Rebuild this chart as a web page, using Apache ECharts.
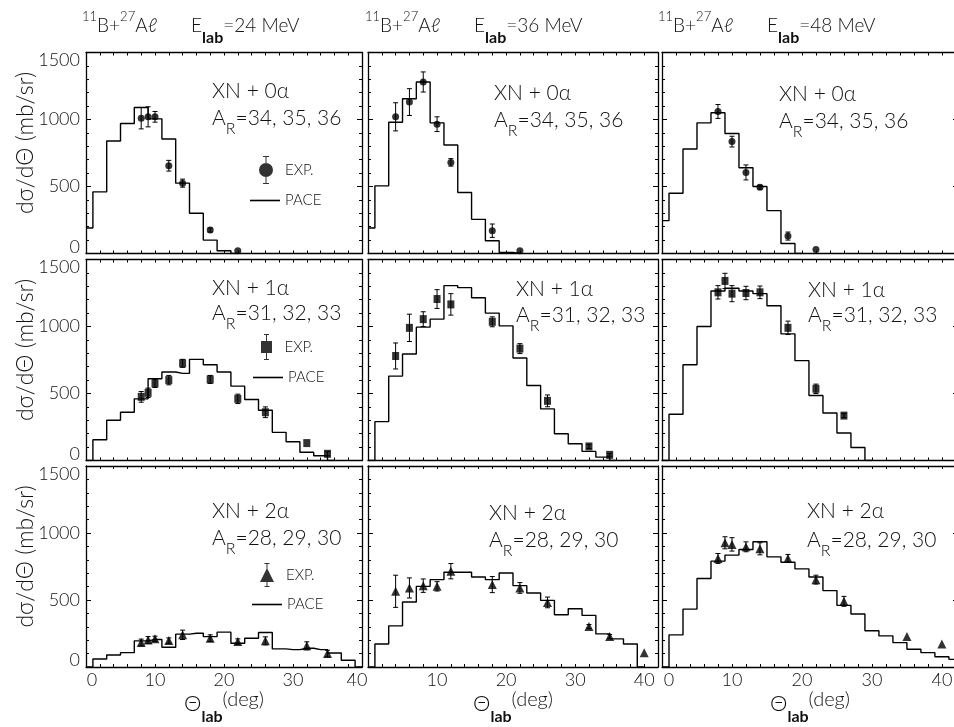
<!DOCTYPE html>
<html>
<head>
<meta charset="utf-8">
<title>11B + 27Al angular distributions</title>
<script src="https://cdn.jsdelivr.net/npm/echarts@6/dist/echarts.min.js"></script>
<style>
  html, body { margin: 0; padding: 0; background: #fff; }
  #chart { width: 954px; height: 727px; }
</style>
</head>
<body>
<div id="chart"></div>
<script>
// PACE histogram bin centres (deg); bins are 2 deg wide
const paceAngles = [0, 2, 4, 6, 8, 10, 12, 14, 16, 18, 20, 22, 24, 26, 28, 30, 32, 34, 36, 38, 40, 42];

// ---- XN + 0alpha (A_R = 34,35,36) ----
const pace24_0a = [190, 460, 840, 970, 1090, 1005, 855, 525, 300, 100, 20, 0];
const pace36_0a = [190, 505, 980, 1155, 1280, 975, 810, 455, 255, 95, 8, 0];
const pace48_0a = [245, 450, 780, 975, 1050, 895, 640, 500, 320, 75, 0];

const exp24_0a_angle = [8, 9, 10, 12, 14, 18, 22];
const exp24_0a_value = [1010, 1020, 1020, 655, 525, 175, 20];
const exp24_0a_error = [80, 75, 40, 40, 30, 15, 0];

const exp36_0a_angle = [4, 6, 8, 10, 12, 18, 22];
const exp36_0a_value = [1020, 1130, 1280, 965, 680, 170, 20];
const exp36_0a_error = [105, 100, 75, 55, 28, 50, 0];

const exp48_0a_angle = [8, 10, 12, 14, 18, 22];
const exp48_0a_value = [1060, 835, 605, 495, 130, 30];
const exp48_0a_error = [52, 40, 56, 15, 30, 0];

// ---- XN + 1alpha (A_R = 31,32,33) ----
const pace24_1a = [0, 155, 300, 360, 460, 610, 660, 650, 755, 715, 660, 555, 455, 375, 210, 140, 62, 35, 0];
const pace36_1a = [0, 290, 630, 795, 995, 1055, 1305, 1290, 1215, 1100, 1005, 765, 560, 385, 200, 125, 68, 25, 0];
const pace48_1a = [0, 345, 715, 1000, 1265, 1285, 1265, 1245, 1155, 945, 745, 485, 355, 205, 97, 0];

const exp24_1a_angle = [8, 9, 10, 12, 14, 18, 22, 26, 32, 35];
const exp24_1a_value = [475, 505, 575, 600, 725, 605, 460, 360, 130, 50];
const exp24_1a_error = [40, 35, 30, 35, 30, 30, 35, 40, 0, 15];

const exp36_1a_angle = [4, 6, 8, 10, 12, 18, 22, 26, 32, 35];
const exp36_1a_value = [780, 990, 1055, 1205, 1165, 1035, 835, 445, 105, 42];
const exp36_1a_error = [97, 102, 55, 70, 80, 37, 37, 44, 15, 10];

const exp48_1a_angle = [8, 9, 10, 12, 14, 18, 22, 26];
const exp48_1a_value = [1255, 1340, 1245, 1250, 1255, 990, 535, 335];
const exp48_1a_error = [50, 57, 60, 50, 47, 50, 35, 15];

// ---- XN + 2alpha (A_R = 28,29,30) ----
const pace24_2a = [0, 60, 90, 107, 195, 205, 147, 245, 252, 227, 260, 177, 215, 258, 135, 130, 140, 130, 105, 50, 0];
const pace36_2a = [0, 172, 307, 485, 602, 652, 707, 707, 672, 652, 702, 607, 552, 497, 390, 435, 385, 247, 210, 172, 0];
const pace48_2a = [0, 240, 432, 660, 790, 835, 877, 935, 822, 782, 732, 672, 570, 460, 395, 270, 232, 182, 132, 107, 77, 57];

const exp24_2a_angle = [8, 9, 10, 12, 14, 18, 22, 26, 32, 35];
const exp24_2a_value = [183, 202, 210, 197, 240, 215, 190, 195, 158, 100];
const exp24_2a_error = [25, 25, 20, 20, 35, 25, 20, 30, 30, 25];

const exp36_2a_angle = [4, 6, 8, 10, 12, 18, 22, 26, 32, 35, 40];
const exp36_2a_value = [565, 590, 607, 602, 715, 615, 590, 482, 302, 227, 107];
const exp36_2a_error = [120, 75, 50, 35, 57, 60, 40, 40, 15, 15, 0];

const exp48_2a_angle = [8, 9, 10, 12, 14, 18, 22, 26, 35, 40];
const exp48_2a_value = [810, 927, 915, 897, 882, 810, 652, 490, 227, 172];
const exp48_2a_error = [37, 45, 50, 37, 45, 30, 33, 37, 0, 0];

// axis tick values
const yTicks = [0, 500, 1000, 1500];
const xTickLabels = [0, 10, 20, 30, 40];

// text
const beamEnergies = ['24', '36', '48'];
const channelNames = ['XN + 0α', 'XN + 1α', 'XN + 2α'];
const residueMasses = ['=34, 35, 36', '=31, 32, 33', '=28, 29, 30'];
const yAxisTitle = 'dσ/dΘ (mb/sr)';

// ---------------------------------------------------------------
const FONT = 'Lato, "DejaVu Sans", sans-serif';
const INK = '#000';
const TXT = '#111';
function txt(size, extra) {
  return Object.assign({ fontFamily: FONT, fontSize: size, fontWeight: 300, color: TXT }, extra || {});
}

// panel geometry
const colLeft = [86, 368, 662];
const colWidth = [276, 290, 296];
const colMax = [40, 42, 42.3];
const rowTop = [52.5, 259.5, 466];
const rowHeight = 201;

const markerSymbol = ['circle', 'rect', 'triangle'];
const markerSize = [7, [7, 8], [9, 9]];

const panelData = [
  [ [pace24_0a, exp24_0a_angle, exp24_0a_value, exp24_0a_error],
    [pace36_0a, exp36_0a_angle, exp36_0a_value, exp36_0a_error],
    [pace48_0a, exp48_0a_angle, exp48_0a_value, exp48_0a_error] ],
  [ [pace24_1a, exp24_1a_angle, exp24_1a_value, exp24_1a_error],
    [pace36_1a, exp36_1a_angle, exp36_1a_value, exp36_1a_error],
    [pace48_1a, exp48_1a_angle, exp48_1a_value, exp48_1a_error] ],
  [ [pace24_2a, exp24_2a_angle, exp24_2a_value, exp24_2a_error],
    [pace36_2a, exp36_2a_angle, exp36_2a_value, exp36_2a_error],
    [pace48_2a, exp48_2a_angle, exp48_2a_value, exp48_2a_error] ]
];

// annotation placement: [left, centre of first line, centre of second line]
const notePos = [
  [[212, 93, 120], [494, 95, 122], [779, 96, 123]],
  [[212, 290, 315], [516, 291, 317], [808, 292, 317]],
  [[212, 513, 540], [489, 515, 542], [807, 513, 542]]
];
const headLeft = [82, 365, 658];

// error bar: vertical line with short caps
function errorBar(params, api) {
  const x = api.value(0), y = api.value(1), e = api.value(2);
  if (!e) return null;
  const hi = api.coord([x, y + e]);
  const lo = api.coord([x, y - e]);
  const w = 2.5;
  const st = { stroke: INK, lineWidth: 1 };
  return {
    type: 'group',
    children: [
      { type: 'line', shape: { x1: hi[0], y1: hi[1], x2: lo[0], y2: lo[1] }, style: st },
      { type: 'line', shape: { x1: hi[0] - w, y1: hi[1], x2: hi[0] + w, y2: hi[1] }, style: st },
      { type: 'line', shape: { x1: lo[0] - w, y1: lo[1], x2: lo[0] + w, y2: lo[1] }, style: st }
    ]
  };
}

function xLabelFormatter(c) {
  return function (v) {
    if (xTickLabels.indexOf(v) < 0) return '';
    if (v === 0) return c === 1 ? '' : '{lo|0}';
    if (v === 40 && c === 0) return '{hi|40}';
    return String(v);
  };
}
function yLabelFormatter(v) {
  if (yTicks.indexOf(v) < 0) return '';
  if (v === 1500) return '{top|1500}';
  if (v === 0) return '{bot|0}';
  return String(v);
}

const grids = [], xAxes = [], yAxes = [], series = [], titles = [], legends = [];
const lineAxis = { show: true, onZero: false, lineStyle: { color: INK, width: 1.3 } };

for (let r = 0; r < 3; r++) {
  for (let c = 0; c < 3; c++) {
    const g = r * 3 + c;
    grids.push({
      left: colLeft[c], top: rowTop[r], width: colWidth[c], height: rowHeight,
      containLabel: false, outerBoundsMode: 'none', show: false
    });
    const xBase = {
      gridIndex: g, type: 'value', min: 0, max: colMax[c], interval: 2,
      axisLine: lineAxis,
      axisTick: { show: true, inside: true, length: 3, lineStyle: { color: INK, width: 1 } },
      splitLine: { show: false }
    };
    xAxes.push(Object.assign({}, xBase, {
      position: 'bottom',
      axisLabel: Object.assign(txt(18), {
        show: r === 2, margin: 4, formatter: xLabelFormatter(c),
        rich: {
          lo: txt(18, { padding: [0, 0, 0, c === 2 ? 14 : 12] }),
          hi: txt(18, { padding: [0, 10, 0, 0] })
        }
      }),
      name: r === 2 ? '{t|Θ}{s|lab}{d|(deg)}' : '',
      nameLocation: 'middle', nameGap: 16, nameMoveOverlap: false,
      nameTextStyle: {
        rich: {
          t: txt(22),
          s: txt(16, { fontWeight: 'bold', color: TXT, padding: [26, 0, 0, 0] }),
          d: txt(20, { padding: [0, 0, 8, 0] })
        }
      }
    }));
    xAxes.push(Object.assign({}, xBase, { position: 'top', axisLabel: { show: false } }));

    const yBase = {
      gridIndex: g, type: 'value', min: 0, max: 1500, interval: 500,
      axisLine: lineAxis,
      axisTick: { show: true, inside: true, length: 5, lineStyle: { color: INK, width: 1 } },
      minorTick: { show: true, splitNumber: 5, length: 3, lineStyle: { color: INK, width: 1 } },
      splitLine: { show: false }, minorSplitLine: { show: false }
    };
    yAxes.push(Object.assign({}, yBase, {
      position: 'left',
      axisLabel: Object.assign(txt(18), {
        show: c === 0, margin: 6, formatter: yLabelFormatter,
        rich: {
          top: txt(18, { padding: [16, 0, 0, 0] }),
          bot: txt(18, { padding: [0, 0, 13, 0] })
        }
      }),
      name: c === 0 ? yAxisTitle : '',
      nameLocation: 'middle', nameRotate: 90, nameGap: 49, nameMoveOverlap: false,
      nameTextStyle: txt(23, { padding: [0, 0, 0, 20] })
    }));
    yAxes.push(Object.assign({}, yBase, { position: 'right', axisLabel: { show: false } }));

    const [pace, ang, val, err] = panelData[r][c];
    const xi = 2 * g, yi = 2 * g;
    series.push({
      type: 'line', name: 'PACE', xAxisIndex: xi, yAxisIndex: yi,
      data: pace.map((v, i) => [paceAngles[i], v]),
      step: 'middle', showSymbol: false, symbol: 'none', clip: true, silent: true,
      lineStyle: { color: INK, width: 1.4 }, itemStyle: { color: INK }, z: 2
    });
    series.push({
      type: 'custom', name: 'EXP. error bars', xAxisIndex: xi, yAxisIndex: yi,
      data: ang.map((a, i) => [a, val[i], err[i]]),
      encode: { x: 0, y: 1 }, renderItem: errorBar, silent: true,
      itemStyle: { color: INK }, z: 3
    });
    series.push({
      type: 'scatter', name: 'EXP.', xAxisIndex: xi, yAxisIndex: yi,
      data: ang.map((a, i) => [a, val[i]]),
      symbol: markerSymbol[r], symbolSize: markerSize[r], silent: true,
      itemStyle: { color: INK, borderWidth: 0 }, z: 4
    });

    // channel and residue labels
    const [nl, ny1, ny2] = notePos[r][c];
    titles.push({
      left: nl, top: ny1 - 12.6, padding: 0, text: channelNames[r],
      textStyle: txt(21)
    });
    titles.push({
      left: nl, top: ny2 - 19.6, padding: 0,
      text: '{m|A}{r|R}{m|' + residueMasses[r] + '}',
      textStyle: Object.assign(txt(21), {
        rich: { m: txt(21), r: txt(16, { padding: [20, 0, 0, 0] }) }
      })
    });
  }
}

// column headings: reaction and beam energy
for (let c = 0; c < 3; c++) {
  titles.push({
    left: headLeft[c], top: 5.5, padding: 0,
    text: '{sup|11}{t|B+}{sup|27}{t|Aℓ}{sp| }{t|E}{sub|lab}{t|=' + beamEnergies[c] + ' MeV}',
    textStyle: Object.assign(txt(19), {
      rich: {
        t: txt(19),
        sup: txt(13, { padding: [0, 0, 18, 0] }),
        sub: txt(16, { fontWeight: 'bold', padding: [24, 0, 0, 0] }),
        sp: { width: 34 }
      }
    })
  });
}

// legends in the left-hand panels
const expIcons = [
  'path://M6.5,0H7.5V28H6.5Z M4,0H10V1H4Z M4,27H10V28H4Z M0,14A7,7 0 1,1 14,14A7,7 0 1,1 0,14Z',
  'path://M5.5,0H6.5V26H5.5Z M3.5,0H8.5V1H3.5Z M3.5,25H8.5V26H3.5Z M0.5,7H11.5V19H0.5Z',
  'path://M6.5,0H7.5V24H6.5Z M4.5,0H9.5V1H4.5Z M4.5,23H9.5V24H4.5Z M0,19L7,5L14,19Z'
];
const expIconSize = [[14, 28], [12, 26], [14, 24]];
const expLegendPos = [[259, 156], [261, 334], [260, 563]];
const paceLegendPos = [[250, 193], [253, 370], [252, 597]];
for (let r = 0; r < 3; r++) {
  legends.push({
    left: expLegendPos[r][0], top: expLegendPos[r][1], padding: 0, selectedMode: false,
    itemWidth: expIconSize[r][0], itemHeight: expIconSize[r][1],
    data: [{ name: 'EXP.', icon: expIcons[r] }],
    textStyle: txt(15, { padding: [0, 0, 0, 7] })
  });
  legends.push({
    left: paceLegendPos[r][0], top: paceLegendPos[r][1], padding: 0, selectedMode: false,
    itemWidth: 30, itemHeight: 1.6,
    data: [{ name: 'PACE', icon: 'path://M0,0H30V1.6H0Z' }],
    textStyle: txt(15)
  });
}

const chart = echarts.init(document.getElementById('chart'), null, { renderer: 'canvas' });
chart.setOption({
  animation: false,
  backgroundColor: '#fff',
  textStyle: { fontFamily: FONT },
  title: titles,
  legend: legends,
  grid: grids,
  xAxis: xAxes,
  yAxis: yAxes,
  series: series
});
</script>
</body>
</html>
